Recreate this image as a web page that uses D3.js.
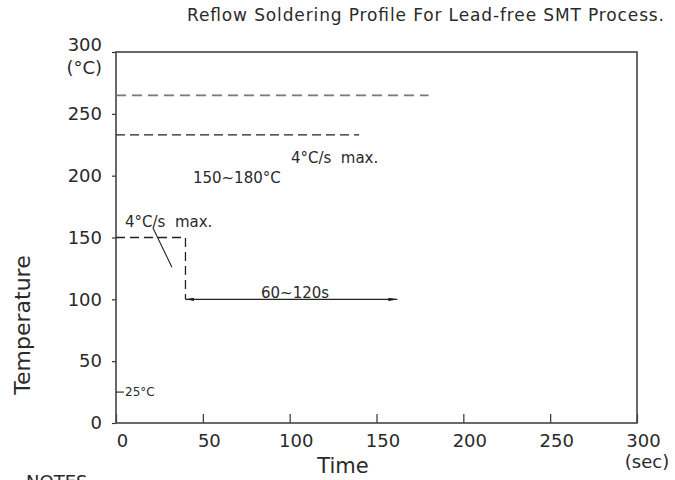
<!DOCTYPE html>
<html>
<head>
<meta charset="utf-8">
<script src="https://cdn.jsdelivr.net/npm/d3@7"></script>
<style>
	body { margin: 0; background: #fff; }
	text { font-family: "DejaVu Sans", sans-serif; fill: #2a2a2a; }
</style>
</head>
<body>
<div class="chart"></div>
<script>
(function() {

	// ticks
	const xTicks = [0, 50, 100, 150, 200, 250, 300];
	const yTicks = [0, 50, 100, 150, 200, 250, 300];

	// dashed reference lines: [start time, end time, temperature]
	const peakLine = [0, 180, 265];
	const reflowLine = [0, 140, 233];

	// preheat step (time, temperature)
	const preheatPath = [[0, 150], [40, 150], [40, 100]];

	// 60~120s arrow, from / to time at temperature
	const holdArrow = [40, 162, 100];

	// leader line from the lower slope note
	const slopeLeader = [[21.3, 157.6], [32.2, 126]];

	// notes placed at (time, temperature)
	const notes = [
		{text: "4°C/s  max.", t: 100.7, temp: 214.5},
		{text: "150~180°C", t: 44.3, temp: 198},
		{text: "4°C/s  max.", t: 5.2, temp: 163},
		{text: "60~120s", t: 83.5, temp: 105}
	];

	const roomTemp = 25;

	const width = 675,
		height = 480,
		margin = {top: 52, right: 38, bottom: 57, left: 116};

	const x = d3.scaleLinear()
		.domain([0, 300])
		.range([margin.left, width - margin.right]);

	const y = d3.scaleLinear()
		.domain([0, 300])
		.range([height - margin.bottom, margin.top]);

	const svg = d3.select(".chart").append("svg")
		.attr("width", width)
		.attr("height", height);

	svg.append("defs").append("marker")
		.attr("id", "arrow")
		.attr("viewBox", "0 0 10 4")
		.attr("refX", 10)
		.attr("refY", 2)
		.attr("markerWidth", 9)
		.attr("markerHeight", 3.6)
		.attr("markerUnits", "userSpaceOnUse")
		.attr("orient", "auto-start-reverse")
		.append("path")
		.attr("d", "M0,0L10,2L0,4Z")
		.attr("fill", "#222");

	// title
	svg.append("text")
		.attr("x", 187)
		.attr("y", 21)
		.attr("textLength", 477)
		.attr("lengthAdjust", "spacing")
		.style("font-size", "17px")
		.text("Reflow Soldering Profile For Lead-free SMT Process.");

	// axes
	const yAxis = d3.axisLeft(y)
		.tickValues(yTicks)
		.tickSize(4)
		.tickPadding(10)
		.tickFormat(d3.format("d"));

	const gy = svg.append("g")
		.attr("transform", "translate(" + margin.left + ",0)")
		.call(yAxis);
	gy.select(".domain").remove();
	gy.selectAll("line").attr("stroke", "#333").attr("stroke-width", 1.2);
	gy.selectAll("text")
		.style("font-family", null)
		.style("font-size", "18px")
		.attr("fill", "#2a2a2a")
		.attr("dy", d => d === 300 ? "-0.08em" : "0.32em");

	gy.append("text")
		.attr("x", -14)
		.attr("y", y(300) + 22)
		.attr("text-anchor", "end")
		.style("font-size", "18px")
		.text("(°C)");

	const xAxis = d3.axisBottom(x)
		.tickValues(xTicks)
		.tickSize(-9)
		.tickPadding(11)
		.tickFormat(d3.format("d"));

	const gx = svg.append("g")
		.attr("transform", "translate(0," + y(0) + ")")
		.call(xAxis);
	gx.select(".domain").remove();
	gx.selectAll("line").attr("stroke", "#333").attr("stroke-width", 1.2);
	gx.selectAll("text")
		.style("font-size", "18px")
		.attr("fill", "#2a2a2a")
		.attr("dx", 6);

	gx.append("text")
		.attr("x", x(300) + 10)
		.attr("y", 45)
		.attr("text-anchor", "middle")
		.style("font-size", "18px")
		.text("(sec)");

	// frame
	svg.append("rect")
		.attr("x", x(0))
		.attr("y", y(300))
		.attr("width", x(300) - x(0))
		.attr("height", y(0) - y(300))
		.attr("fill", "none")
		.attr("stroke", "#444")
		.attr("stroke-width", 1.6);

	// axis titles
	svg.append("text")
		.attr("x", 343)
		.attr("y", 473)
		.attr("text-anchor", "middle")
		.style("font-size", "21px")
		.text("Time");

	svg.append("text")
		.attr("transform", "translate(30,325) rotate(-90)")
		.attr("text-anchor", "middle")
		.style("font-size", "22px")
		.text("Temperature");

	svg.append("text")
		.attr("x", 26)
		.attr("y", 488)
		.style("font-size", "18px")
		.text("NOTES");

	// dashed reference lines
	svg.append("line")
		.attr("x1", x(peakLine[0]))
		.attr("x2", x(peakLine[1]))
		.attr("y1", y(peakLine[2]))
		.attr("y2", y(peakLine[2]))
		.attr("stroke", "#777")
		.attr("stroke-width", 1.8)
		.attr("stroke-dasharray", "10,6");

	svg.append("line")
		.attr("x1", x(reflowLine[0]))
		.attr("x2", x(reflowLine[1]))
		.attr("y1", y(reflowLine[2]))
		.attr("y2", y(reflowLine[2]))
		.attr("stroke", "#222")
		.attr("stroke-width", 1.3)
		.attr("stroke-dasharray", "9,5");

	const line = d3.line()
		.x(d => x(d[0]))
		.y(d => y(d[1]));

	svg.append("path")
		.attr("d", line(preheatPath))
		.attr("fill", "none")
		.attr("stroke", "#222")
		.attr("stroke-width", 1.3)
		.attr("stroke-dasharray", "9,5");

	svg.append("path")
		.attr("d", line(slopeLeader))
		.attr("fill", "none")
		.attr("stroke", "#222")
		.attr("stroke-width", 1.1);

	// 60~120s arrow
	svg.append("line")
		.attr("x1", x(holdArrow[0]))
		.attr("x2", x(holdArrow[1]))
		.attr("y1", y(holdArrow[2]))
		.attr("y2", y(holdArrow[2]))
		.attr("stroke", "#222")
		.attr("stroke-width", 1.1)
		.attr("marker-start", "url(#arrow)")
		.attr("marker-end", "url(#arrow)");

	// 25°C mark
	svg.append("line")
		.attr("x1", x(0))
		.attr("x2", x(0) + 8)
		.attr("y1", y(roomTemp))
		.attr("y2", y(roomTemp))
		.attr("stroke", "#222")
		.attr("stroke-width", 1.1);

	svg.append("text")
		.attr("x", x(0) + 9)
		.attr("y", y(roomTemp))
		.attr("dy", "0.35em")
		.style("font-size", "12px")
		.text(roomTemp + "°C");

	// notes
	svg.selectAll(".note")
		.data(notes)
		.enter().append("text")
		.attr("class", "note")
		.attr("x", d => x(d.t))
		.attr("y", d => y(d.temp))
		.attr("dy", "0.35em")
		.style("font-size", "15px")
		.style("white-space", "pre")
		.text(d => d.text);

})();
</script>
</body>
</html>
